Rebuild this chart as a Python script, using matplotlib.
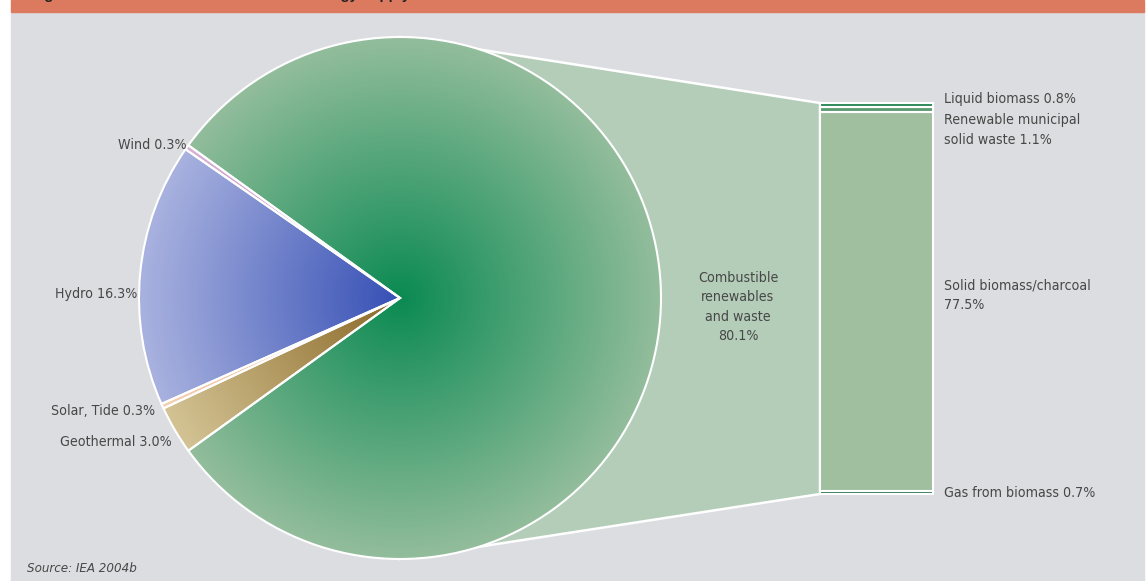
import numpy as np
import matplotlib
matplotlib.use('Agg')
import matplotlib.pyplot as plt
from matplotlib.colors import LinearSegmentedColormap
from matplotlib.patches import Polygon, Rectangle

plt.rcParams['font.family'] = ['Liberation Sans Narrow', 'DejaVu Sans']
plt.rcParams['font.stretch'] = 'condensed'

# pie: share of total renewable supply (%)
pie_labels = ['Combustible\nrenewables\nand waste\n80.1%', 'Wind 0.3%', 'Hydro 16.3%',
              'Solar, Tide 0.3%', 'Geothermal 3.0%']
pie_values = [80.1, 0.3, 16.3, 0.3, 3.0]
pie_inner = ['#0b8a52', '#c48cc0', '#3650b5', '#f0b68c', '#8a6826']
pie_outer = ['#93bd9c', '#d8b0d4', '#a9b2df', '#f5cfb2', '#d3c394']

# breakdown of combustibles, bottom to top (%)
bar_labels = ['Gas from biomass 0.7%', 'Solid biomass/charcoal\n77.5%',
              'Renewable municipal\nsolid waste 1.1%', 'Liquid biomass 0.8%']
bar_values = [0.7, 77.5, 1.1, 0.8]
bar_colors = ['#2b7a4f', '#9fbf9f', '#5c9c71', '#2d8857']

W, H = 1146, 581
txt = '#474747'

fig = plt.figure(figsize=(W / 100, H / 100), dpi=100)
fig.patch.set_facecolor('white')
ax = fig.add_axes([0, 0, 1, 1])

# panel + title strip (title is cut by the top edge, as in the source)
ax.add_patch(Rectangle((11, 0), 1133, H - 12, color='#dcdde0', zorder=0))
ax.add_patch(Rectangle((11, H - 12), 1133, 12, color='#dc7a60', zorder=0))
ax.text(31, H + 1.5, 'Figure 1: Structure of world renewable energy supply',
        fontsize=10.8, fontweight='bold', family=['Liberation Sans', 'DejaVu Sans'],
        fontstretch='normal', color='#222222', va='baseline', ha='left')

cx, cy, R = 400, H - 298, 261
start = -pie_values[0] / 2 * 3.6
wedges, _ = ax.pie(pie_values, startangle=start, center=(cx, cy), radius=R,
                   counterclock=True, wedgeprops=dict(linewidth=0))

# radial gradient fill inside each wedge
n = 700
gx = np.linspace(cx - R, cx + R, n)
GX, GY = np.meshgrid(gx, np.linspace(cy - R, cy + R, n))
rr = np.clip(np.hypot(GX - cx, GY - cy) / R, 0, 1)
for w, c0, c1 in zip(wedges, pie_inner, pie_outer):
    cmap = LinearSegmentedColormap.from_list('g', [c0, c1])
    im = ax.imshow(rr, extent=(cx - R, cx + R, cy - R, cy + R), origin='lower',
                   cmap=cmap, vmin=0, vmax=1, zorder=2, aspect='auto',
                   interpolation='bilinear')
    im.set_clip_path(w)
    w.set_facecolor('none')
    w.set_edgecolor('white')
    w.set_linewidth(1.5)
    w.set_zorder(3)

ax.set_xlim(0, W)
ax.set_ylim(0, H)
ax.set_aspect('auto')
ax.axis('off')

# bar of pie
bx0, bx1 = 820, 933
by0, by1 = H - 494, H - 103
ax.add_patch(Polygon([(cx, cy + R), (bx0, by1), (bx0, by0), (cx, cy - R)],
                     facecolor='#b4cdb9', edgecolor='white', linewidth=1.8, zorder=1))

bax = fig.add_axes([bx0 / W, by0 / H, (bx1 - bx0) / W, (by1 - by0) / H])
bottoms = np.concatenate([[0], np.cumsum(bar_values)[:-1]])
bax.bar(0, bar_values, bottom=bottoms, width=1, color=bar_colors,
        edgecolor='white', linewidth=1.5, clip_on=False)
bax.set_xlim(-0.5, 0.5)
bax.set_ylim(0, sum(bar_values))
bax.axis('off')

fs = 10.2
# pie labels
ax.text(738, H - 307, pie_labels[0], ha='center', va='center', fontsize=fs,
        color=txt, linespacing=1.5)
ax.text(187, H - 145, pie_labels[1], ha='right', va='center', fontsize=fs, color=txt)
ax.text(137, H - 294, pie_labels[2], ha='right', va='center', fontsize=fs, color=txt)
ax.text(155, H - 411, pie_labels[3], ha='right', va='center', fontsize=fs, color=txt)
ax.text(172, H - 442, pie_labels[4], ha='right', va='center', fontsize=fs, color=txt)

# bar labels
ax.text(944, H - 493, bar_labels[0], ha='left', va='center', fontsize=fs, color=txt)
ax.text(944, H - 295, bar_labels[1], ha='left', va='center', fontsize=fs, color=txt,
        linespacing=1.5)
ax.text(944, H - 130, bar_labels[2], ha='left', va='center', fontsize=fs, color=txt,
        linespacing=1.5)
ax.text(944, H - 99, bar_labels[3], ha='left', va='center', fontsize=fs, color=txt)

ax.text(27, H - 569, 'Source: IEA 2004b', ha='left', va='center', fontsize=9.5,
        style='italic', color=txt)

fig.savefig('out.png', dpi=100, facecolor='white')
